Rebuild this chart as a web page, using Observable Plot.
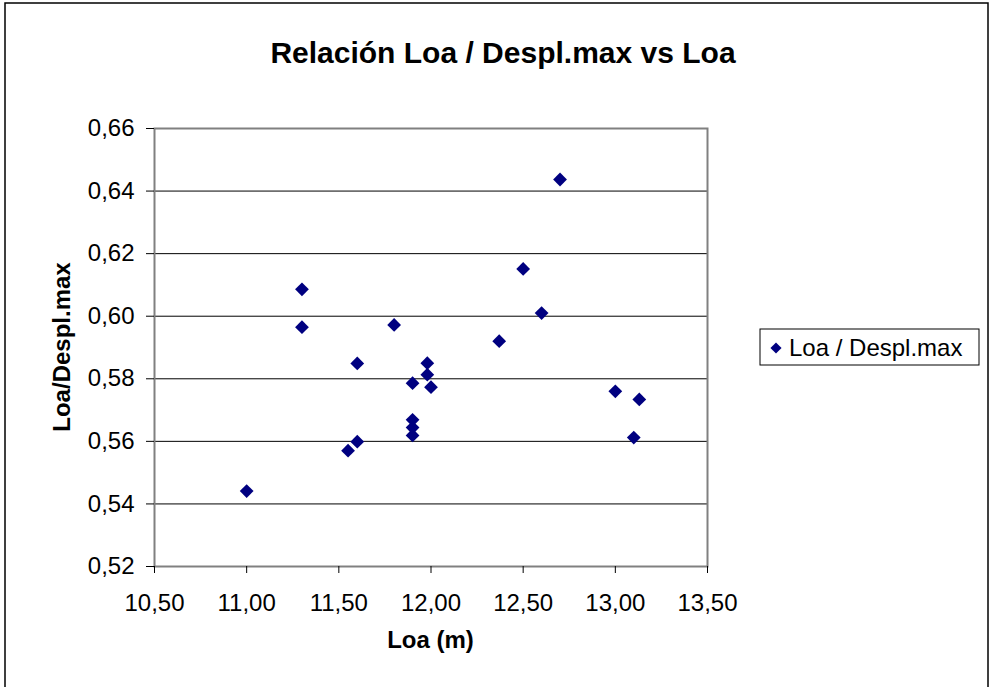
<!DOCTYPE html>
<html>
<head>
<meta charset="utf-8">
<script src="https://cdn.jsdelivr.net/npm/d3@7"></script>
<script src="https://cdn.jsdelivr.net/npm/@observablehq/plot@0.6"></script>
<style>
  html, body { margin: 0; padding: 0; background: #fff; }
  #chart { width: 994px; height: 687px; }
</style>
</head>
<body>
<div id="chart"></div>
<script>
const titleText = "Relación Loa / Despl.max vs Loa";
const xLabel = "Loa (m)";
const yLabel = "Loa/Despl.max";
const seriesName = "Loa / Despl.max";

const loa = [11.00, 11.30, 11.30, 11.60, 11.55, 11.60, 11.80, 11.90, 11.90, 11.90, 11.90, 11.98, 11.98, 12.00, 12.70, 12.50, 12.60, 12.37, 13.00, 13.13, 13.10];
const ratio = [0.5441, 0.6086, 0.5965, 0.5849, 0.5570, 0.5599, 0.5972, 0.5786, 0.5669, 0.5644, 0.5619, 0.5850, 0.5813, 0.5773, 0.6437, 0.6151, 0.6010, 0.5920, 0.5760, 0.5734, 0.5612];

const xTicks = [10.5, 11.0, 11.5, 12.0, 12.5, 13.0, 13.5];
const yTicks = [0.52, 0.54, 0.56, 0.58, 0.60, 0.62, 0.64, 0.66];

const data = loa.map((x, i) => ({x, y: ratio[i]}));
const fmt = d => d.toFixed(2).replace(".", ",");
const navy = "#000080";
const dotR = 6.2;

const chart = Plot.plot({
  width: 994,
  height: 687,
  marginLeft: 154,
  marginRight: 287,
  marginTop: 128,
  marginBottom: 121,
  style: {fontFamily: "'Liberation Sans', Arial, sans-serif", fontSize: "24px", background: "#fff", color: "#000", overflow: "visible"},
  x: {domain: [10.5, 13.5]},
  y: {domain: [0.52, 0.66]},
  marks: [
    Plot.gridY(yTicks, {stroke: "#000", strokeOpacity: 1, strokeWidth: 1}),
    Plot.frame({stroke: "#808080", strokeWidth: 2}),
    Plot.axisY({ticks: yTicks, tickFormat: fmt, tickSize: 8, tickPadding: 12, label: null, stroke: "#000", fontSize: 24}),
    Plot.axisX({ticks: xTicks, tickFormat: fmt, tickSize: 7, tickPadding: 20, label: null, stroke: "#000", fontSize: 24}),
    Plot.dot(data, {x: "x", y: "y", symbol: "diamond2", r: dotR, fill: navy, stroke: "none"})
  ]
});

document.getElementById("chart").appendChild(chart);

const svg = d3.select(chart);
// outer chart border
svg.insert("rect", ":first-child")
  .attr("x", 5).attr("y", 3).attr("width", 983).attr("height", 700)
  .attr("fill", "none").attr("stroke", "#000").attr("stroke-width", 1.5);

svg.append("text")
  .attr("x", 503).attr("y", 63)
  .attr("text-anchor", "middle")
  .attr("font-size", 30).attr("font-weight", "bold")
  .text(titleText);

svg.append("text")
  .attr("x", 430.5).attr("y", 648)
  .attr("text-anchor", "middle")
  .attr("font-size", 24).attr("font-weight", "bold")
  .text(xLabel);

svg.append("text")
  .attr("transform", "translate(70,347) rotate(-90)")
  .attr("text-anchor", "middle")
  .attr("font-size", 24).attr("font-weight", "bold")
  .text(yLabel);

// legend
const lg = svg.append("g");
lg.append("rect")
  .attr("x", 760).attr("y", 329).attr("width", 219).attr("height", 36)
  .attr("fill", "#fff").attr("stroke", "#000").attr("stroke-width", 1);
lg.append("path")
  .attr("transform", "translate(776,348)")
  .attr("d", d3.symbol(d3.symbolDiamond2, Math.PI * 5 * 5)())
  .attr("fill", navy);
lg.append("text")
  .attr("x", 789).attr("y", 356)
  .attr("text-anchor", "start")
  .attr("font-size", 24)
  .text(seriesName);
</script>
</body>
</html>
